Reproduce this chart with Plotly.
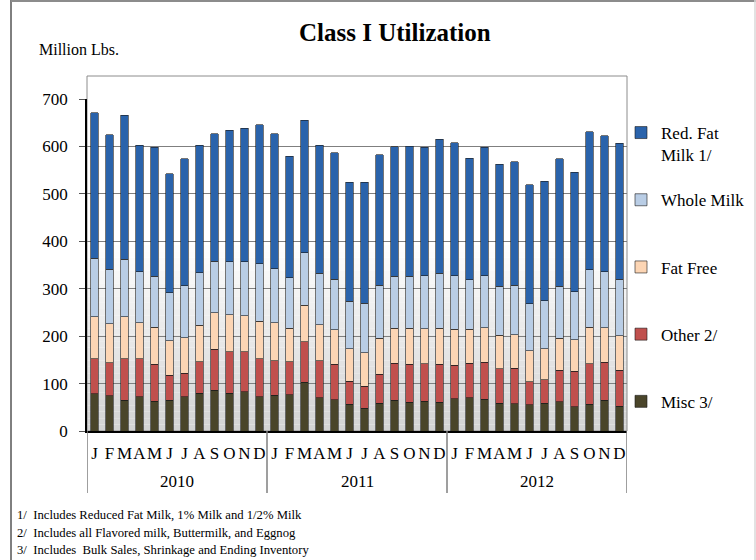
import plotly.graph_objects as go

years = ["2010", "2011", "2012"]
months = ["J", "F", "M", "A", "M", "J", "J", "A", "S", "O", "N", "D"]

misc = [79, 74, 65, 72, 63, 65, 72, 80, 86, 80, 83, 72,
        75, 76, 103, 70, 66, 56, 48, 59, 65, 61, 63, 61,
        68, 70, 67, 59, 57, 55, 59, 62, 51, 56, 65, 52]
other = [73, 70, 87, 80, 78, 53, 50, 66, 86, 87, 84, 80,
         73, 70, 85, 78, 75, 49, 46, 61, 78, 80, 79, 80,
         71, 73, 78, 72, 75, 49, 49, 66, 75, 86, 80, 76]
fat_free = [89, 82, 89, 76, 78, 72, 75, 77, 77, 78, 76, 79,
            80, 71, 77, 76, 73, 68, 71, 76, 74, 76, 74, 76,
            76, 72, 73, 71, 71, 65, 65, 68, 66, 77, 73, 73]
whole = [123, 115, 121, 108, 107, 101, 109, 111, 109, 112, 114, 122,
         114, 106, 111, 109, 106, 101, 104, 111, 109, 109, 111, 116,
         112, 104, 109, 103, 104, 99, 102, 109, 102, 121, 118, 119]
red_fat = [307, 284, 304, 267, 272, 251, 268, 269, 269, 277, 281, 293,
           285, 256, 279, 270, 267, 251, 256, 275, 273, 274, 271, 282,
           281, 256, 271, 257, 261, 251, 252, 269, 252, 291, 286, 287]

x_keys = [f"{y}-{i + 1:02d}" for y in years for i in range(len(months))]
x_text = months * len(years)

series = [
    ("Misc 3/<br>\u00a0", misc, "#4a452a"),
    ("Other 2/<br>\u00a0", other, "#c0504d"),
    ("Fat Free<br>\u00a0", fat_free, "#fcd5b4"),
    ("Whole Milk<br>\u00a0", whole, "#b9cde5"),
    ("Red. Fat<br>Milk 1/", red_fat, "#2a63ab"),
]

FONT = "Liberation Serif, Times New Roman, serif"
PH = 332.0  # plot height px
PW = 540.0  # plot width px
L, T = 87, 99


def px(xw):
    return (xw - L) / PW


def py(yw):
    return (T + PH - yw) / PH


fig = go.Figure()
n = len(series)
for i, (name, vals, col) in enumerate(series):
    fig.add_trace(go.Bar(
        x=x_keys, y=vals, name=name, legendgroup=str(i), legendrank=n - i,
        marker=dict(color=col, line=dict(color="#1a1a1a", width=0.6)),
    ))

shapes = []
# plot-area gradient background (white -> light gray toward bottom)
N = 30
top_frac = 0.58
for k in range(N):
    y0 = top_frac * k / N
    y1 = top_frac * (k + 1) / N
    t = k / (N - 1)
    g = int(212 + (255 - 212) * t)
    shapes.append(dict(type="rect", xref="paper", yref="paper", x0=0, x1=1,
                       y0=y0, y1=y1, fillcolor=f"rgb({g},{g},{g})",
                       line=dict(width=0), layer="below"))
# plot-area frame (extends above the 700 gridline)
shapes.append(dict(type="rect", xref="paper", yref="paper", x0=0, x1=1,
                   y0=0, y1=py(76), line=dict(color="#8c8c8c", width=1),
                   fillcolor="rgba(0,0,0,0)", layer="below"))
# year dividers below the axis
for xv in [-0.5, 11.5, 23.5, 35.5]:
    shapes.append(dict(type="line", xref="x", yref="paper", x0=xv, x1=xv,
                       y0=py(431), y1=py(493), line=dict(color="#7f7f7f", width=1.5)))
# chart border (left, top, right)
shapes.append(dict(type="line", xref="paper", yref="paper",
                   x0=px(11), x1=px(11), y0=py(560), y1=py(0),
                   line=dict(color="#000000", width=1)))
shapes.append(dict(type="line", xref="paper", yref="paper",
                   x0=px(11), x1=px(756), y0=py(1), y1=py(1),
                   line=dict(color="#8c8c8c", width=2)))
shapes.append(dict(type="line", xref="paper", yref="paper",
                   x0=px(755), x1=px(755), y0=py(560), y1=py(0),
                   line=dict(color="#d9d9d9", width=1.5)))

annotations = [
    dict(text="<b>Class I Utilization</b>", xref="paper", yref="paper",
         x=px(395), y=py(33), xanchor="center", yanchor="middle",
         showarrow=False, font=dict(family=FONT, size=25, color="#000")),
    dict(text="Million Lbs.", xref="paper", yref="paper",
         x=px(37), y=py(50), xanchor="left", yanchor="middle",
         showarrow=False, font=dict(family=FONT, size=16, color="#000")),
]
for k, yr in enumerate(years):
    annotations.append(dict(text=yr, xref="x", yref="paper", x=12 * k + 5.5, y=py(482),
                            xanchor="center", yanchor="middle", showarrow=False,
                            font=dict(family=FONT, size=17, color="#000")))
notes = ["1/  Includes Reduced Fat Milk, 1% Milk and 1/2% Milk",
         "2/  Includes all Flavored milk, Buttermilk, and Eggnog",
         "3/  Includes  Bulk Sales, Shrinkage and Ending Inventory"]
for j, t in enumerate(notes):
    annotations.append(dict(text=t, xref="paper", yref="paper",
                            x=px(15), y=py(515 + 17.5 * j),
                            xanchor="left", yanchor="middle", showarrow=False,
                            font=dict(family=FONT, size=12.7, color="#000")))

fig.update_layout(
    width=756, height=560,
    margin=dict(l=L, r=756 - L - int(PW), t=T, b=560 - T - int(PH), autoexpand=False),
    barmode="stack", bargap=0.5,
    paper_bgcolor="white", plot_bgcolor="rgba(0,0,0,0)",
    font=dict(family=FONT, size=16, color="#000"),
    showlegend=True,
    legend=dict(traceorder="grouped", tracegroupgap=20, x=px(621), y=py(115),
                xanchor="left", yanchor="top", valign="top", itemwidth=30, maxheight=1,
                font=dict(family=FONT, size=17, color="#000"), bgcolor="rgba(0,0,0,0)"),
    xaxis=dict(type="category", tickvals=x_keys, ticktext=x_text, tickangle=0,
               showline=True, linecolor="#000", linewidth=1.5, automargin=False,
               ticks="", ticklabelstandoff=6, tickfont=dict(family=FONT, size=17, color="#000"),
               showgrid=False, range=[-0.5, 35.5]),
    yaxis=dict(range=[0, 700], tickvals=[0, 100, 200, 300, 400, 500, 600, 700],
               showline=True, linecolor="#000", linewidth=1.5, ticks="outside",
               ticklen=6, tickcolor="#555", ticklabelstandoff=8, automargin=False,
               showgrid=True, gridcolor="#7f7f7f", gridwidth=1,
               zeroline=False, tickfont=dict(family=FONT, size=17, color="#000")),
    shapes=shapes, annotations=annotations,
)

fig.write_html("out.html", config={"displayModeBar": False},
               post_script="document.body.style.margin='0px';")
